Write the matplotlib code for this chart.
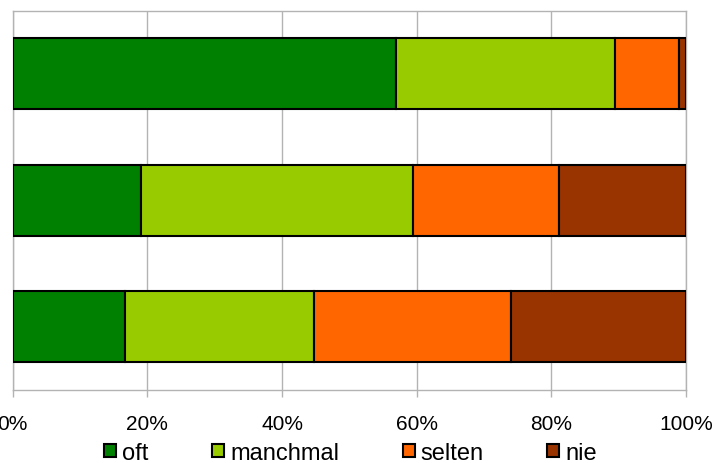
import matplotlib.pyplot as plt
import numpy as np

plt.rcParams["font.family"] = ["Liberation Sans", "DejaVu Sans"]

# -----------------------------------
# DATA
# -----------------------------------

series = ["oft", "manchmal", "selten", "nie"]
colors = ["#008000", "#99cc00", "#ff6600", "#993300"]

oft = [56.9, 19.1, 16.7]
manchmal = [32.6, 40.4, 28.0]
selten = [9.4, 21.6, 29.3]
nie = [1.1, 18.9, 26.0]

xticks = [0, 20, 40, 60, 80, 100]
xlabels = ["0%", "20%", "40%", "60%", "80%", "100%"]

# -----------------------------------
# FIGURE
# -----------------------------------

fig = plt.figure(figsize=(7.14, 4.64), dpi=100)
ax = fig.add_axes([0.0178, 0.157, 0.943, 0.818])

y = np.arange(len(oft))
left = np.zeros(len(oft))

for name, vals, col in zip(series, [oft, manchmal, selten, nie], colors):
    ax.barh(
        y,
        vals,
        left=left,
        height=0.56,
        color=col,
        edgecolor="black",
        linewidth=1.5,
        label=name,
        zorder=3
    )
    left = left + np.array(vals)

ax.set_ylim(2.5, -0.5)
ax.set_xlim(0, 100)

ax.set_yticks([])
ax.set_xticks(xticks)
ax.set_xticklabels(xlabels, fontsize=15)

ax.grid(axis="x", color="#b3b3b3", linewidth=1, zorder=0)
ax.tick_params(axis="x", length=5, color="#b3b3b3", width=1, pad=12)

for s in ax.spines.values():
    s.set_color("#b3b3b3")
    s.set_linewidth(1)

# -----------------------------------
# LEGEND
# -----------------------------------

fig.legend(
    loc="center",
    bbox_to_anchor=(0.491, 0.022),
    ncol=4,
    frameon=False,
    fontsize=17,
    borderpad=0,
    handlelength=0.5,
    handleheight=0.5,
    handletextpad=0.25,
    columnspacing=2.7
)

fig.savefig("out.png", dpi=100)
